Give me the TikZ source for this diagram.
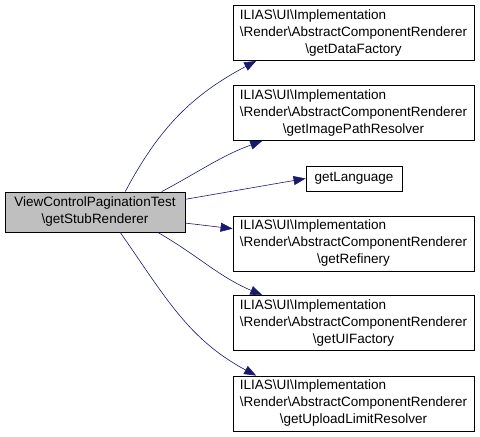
\documentclass[tikz,border=0pt]{standalone}
\usepackage{fontspec}
\setmainfont{Liberation Sans}
\usetikzlibrary{arrows.meta}
\definecolor{edgeblue}{HTML}{191970}
\newcommand{\bs}{\textbackslash{}}
\newcommand{\rendererlabel}[1]{\begin{tabular}{@{}c@{}}\multicolumn{1}{@{}l@{}}{ILIAS\bs UI\bs Implementation}\\ \bs Render\bs AbstractComponentRenderer\\ \bs #1\end{tabular}}

\begin{document}
\begin{tikzpicture}[
        x=1pt, y=1pt,
        every node/.style={font=\fontsize{13.5}{17}\selectfont},
        callee/.style={draw=black, fill=white, thick, inner sep=2pt, minimum width=241pt, minimum height=54pt},
        small/.style={draw=black, fill=white, thick, inner sep=2pt, minimum width=96pt, minimum height=25pt},
        caller/.style={draw=black, fill=black!25, thick, inner sep=2pt, minimum width=180pt, minimum height=40pt, align=center},
        call/.style={-{Triangle[length=12pt, width=9pt]}, edgeblue, semithick}
    ]
    \useasboundingbox (0,0) rectangle (480,437);

    % caller
    \node[caller] (stub) at (95, 225) {ViewControlPaginationTest\\\bs getStubRenderer};

    % callees
    \node[callee] (data) at (353.5, 404) {\rendererlabel{getDataFactory}};
    \node[callee] (image) at (353.5, 324) {\rendererlabel{getImagePathResolver}};
    \node[small] (lang) at (354, 258.5) {getLanguage};
    \node[callee] (refinery) at (353.5, 193.5) {\rendererlabel{getRefinery}};
    \node[callee] (uifactory) at (353.5, 114) {\rendererlabel{getUIFactory}};
    \node[callee] (upload) at (353.5, 33.5) {\rendererlabel{getUploadLimitResolver}};

    \draw[call] (stub.34) to[out=62, in=208] (data.196);
    \draw[call] (stub.17) to[out=28, in=200] (image.197);
    \draw[call] (stub.8) -- (lang.west);
    \draw[call] (stub.-7) -- (refinery.173);
    \draw[call] (stub.-18) to[out=-30, in=157] (uifactory.163);
    \draw[call] (stub.-39) to[out=-55, in=152] (upload.164);

\end{tikzpicture}
\end{document}
